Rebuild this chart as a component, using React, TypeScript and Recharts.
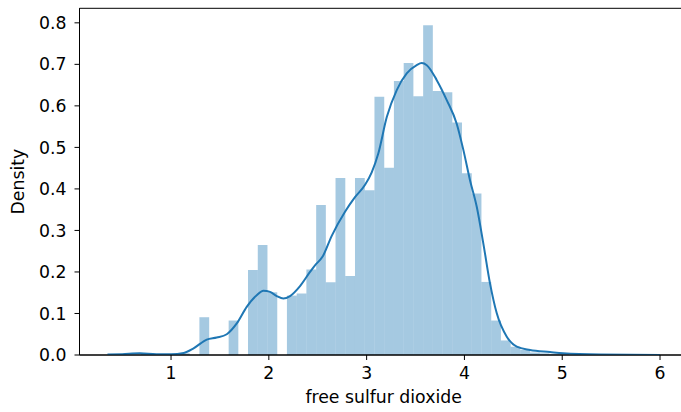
import {
  ComposedChart,
  Line,
  XAxis,
  YAxis,
  ReferenceArea,
} from "recharts"

// histogram bin edges (log of free sulfur dioxide), 50 bins
const binEdges = [
  0.693, 0.793, 0.892, 0.992, 1.091, 1.191, 1.29, 1.39, 1.489, 1.589,
  1.688, 1.787, 1.887, 1.986, 2.086, 2.185, 2.285, 2.384, 2.484, 2.583,
  2.682, 2.782, 2.881, 2.981, 3.08, 3.18, 3.279, 3.379, 3.478, 3.578,
  3.677, 3.776, 3.876, 3.975, 4.075, 4.174, 4.274, 4.373, 4.473, 4.572,
  4.671, 4.771, 4.87, 4.97, 5.069, 5.169, 5.268, 5.368, 5.467, 5.567,
  5.666,
]

// density of each bin
const binDensity = [
  0.002, 0, 0, 0, 0.004, 0, 0.091, 0, 0, 0.083,
  0, 0.205, 0.265, 0.151, 0, 0.143, 0.148, 0.206, 0.361, 0.175,
  0.426, 0.19, 0.426, 0.397, 0.622, 0.451, 0.66, 0.703, 0.623, 0.794,
  0.636, 0.633, 0.56, 0.438, 0.389, 0.176, 0.083, 0.035, 0.02, 0.012,
  0.006, 0.004, 0.002, 0.002, 0, 0, 0.002, 0, 0, 0.002,
]

// kde curve
const kdeX = [
  0.35, 0.5, 0.68, 0.85, 1.0, 1.13, 1.23, 1.365, 1.467, 1.57,
  1.672, 1.774, 1.876, 1.944, 2.012, 2.081, 2.148, 2.217, 2.319, 2.421,
  2.472, 2.55, 2.643, 2.779, 2.881, 2.984, 3.052, 3.12, 3.206, 3.308,
  3.41, 3.512, 3.563, 3.615, 3.717, 3.819, 3.921, 3.989, 4.057, 4.126,
  4.193, 4.262, 4.33, 4.433, 4.535, 4.671, 4.875, 5.008, 5.39, 6.0,
]
const kdeY = [
  0.001, 0.002, 0.004, 0.002, 0.002, 0.005, 0.016, 0.037, 0.042, 0.05,
  0.076, 0.116, 0.144, 0.155, 0.152, 0.142, 0.136, 0.142, 0.166, 0.2,
  0.216, 0.237, 0.287, 0.345, 0.38, 0.41, 0.44, 0.486, 0.573, 0.638,
  0.678, 0.698, 0.703, 0.698, 0.662, 0.614, 0.557, 0.494, 0.421, 0.357,
  0.269, 0.172, 0.101, 0.044, 0.02, 0.012, 0.007, 0.004, 0.001, 0.0,
]

const xTicks = [1, 2, 3, 4, 5, 6]
const yTicks = [0, 0.1, 0.2, 0.3, 0.4, 0.5, 0.6, 0.7, 0.8]

const X_MIN = 0.064
const X_MAX = 6.283
const Y_MAX = 0.835

const kdeData = kdeX.map((x, i) => ({ x, density: kdeY[i] }))

const font = "'DejaVu Sans', sans-serif"
const FS = 17.3
const tickStyle = { fontSize: FS, fill: "#000", fontFamily: font }

const YLabel = (props: any) => {
  const vb = props.viewBox || { y: 8.3, height: 346.7 }
  const cy = vb.y + vb.height / 2
  return (
    <text
      x={18}
      y={cy}
      transform={`rotate(-90, 18, ${cy})`}
      textAnchor="middle"
      dominantBaseline="central"
      fontSize={FS}
      fontFamily={font}
      fill="#000"
    >
      Density
    </text>
  )
}

export default function App() {
  return (
    <div
      style={{
        position: "absolute",
        left: 0,
        top: 0,
        width: 681,
        height: 412,
        overflow: "hidden",
        background: "#fff",
      }}
    >
      <ComposedChart
        width={688}
        height={412}
        data={kdeData}
        margin={{ top: 8.3, right: 0.3, bottom: 0, left: 0 }}
      >
        <XAxis
          type="number"
          dataKey="x"
          domain={[X_MIN, X_MAX]}
          ticks={xTicks}
          allowDataOverflow
          height={57}
          tickSize={5}
          tickMargin={7}
          tick={tickStyle}
          stroke="#000"
          label={{
            value: "free sulfur dioxide",
            position: "insideBottom",
            offset: 8.7,
            style: { fontSize: FS, fill: "#000", fontFamily: font },
          }}
        />
        <YAxis
          type="number"
          domain={[0, Y_MAX]}
          ticks={yTicks}
          allowDataOverflow
          width={79.5}
          tickSize={5}
          tickMargin={8}
          tick={tickStyle}
          tickFormatter={(v: number) => v.toFixed(1)}
          stroke="#000"
          label={{ content: YLabel }}
        />
        {binDensity.map((d, i) =>
          d > 0 ? (
            <ReferenceArea
              key={i}
              x1={binEdges[i]}
              x2={binEdges[i + 1]}
              y1={0}
              y2={d}
              fill="#1f77b4"
              fillOpacity={0.4}
              stroke="none"
            />
          ) : null
        )}
        <ReferenceArea
          x1={X_MIN}
          x2={X_MAX}
          y1={0}
          y2={Y_MAX}
          fill="none"
          stroke="#000"
          strokeWidth={1}
        />
        <Line
          type="monotone"
          dataKey="density"
          stroke="#1f77b4"
          strokeWidth={2}
          dot={false}
          isAnimationActive={false}
        />
      </ComposedChart>
    </div>
  )
}
